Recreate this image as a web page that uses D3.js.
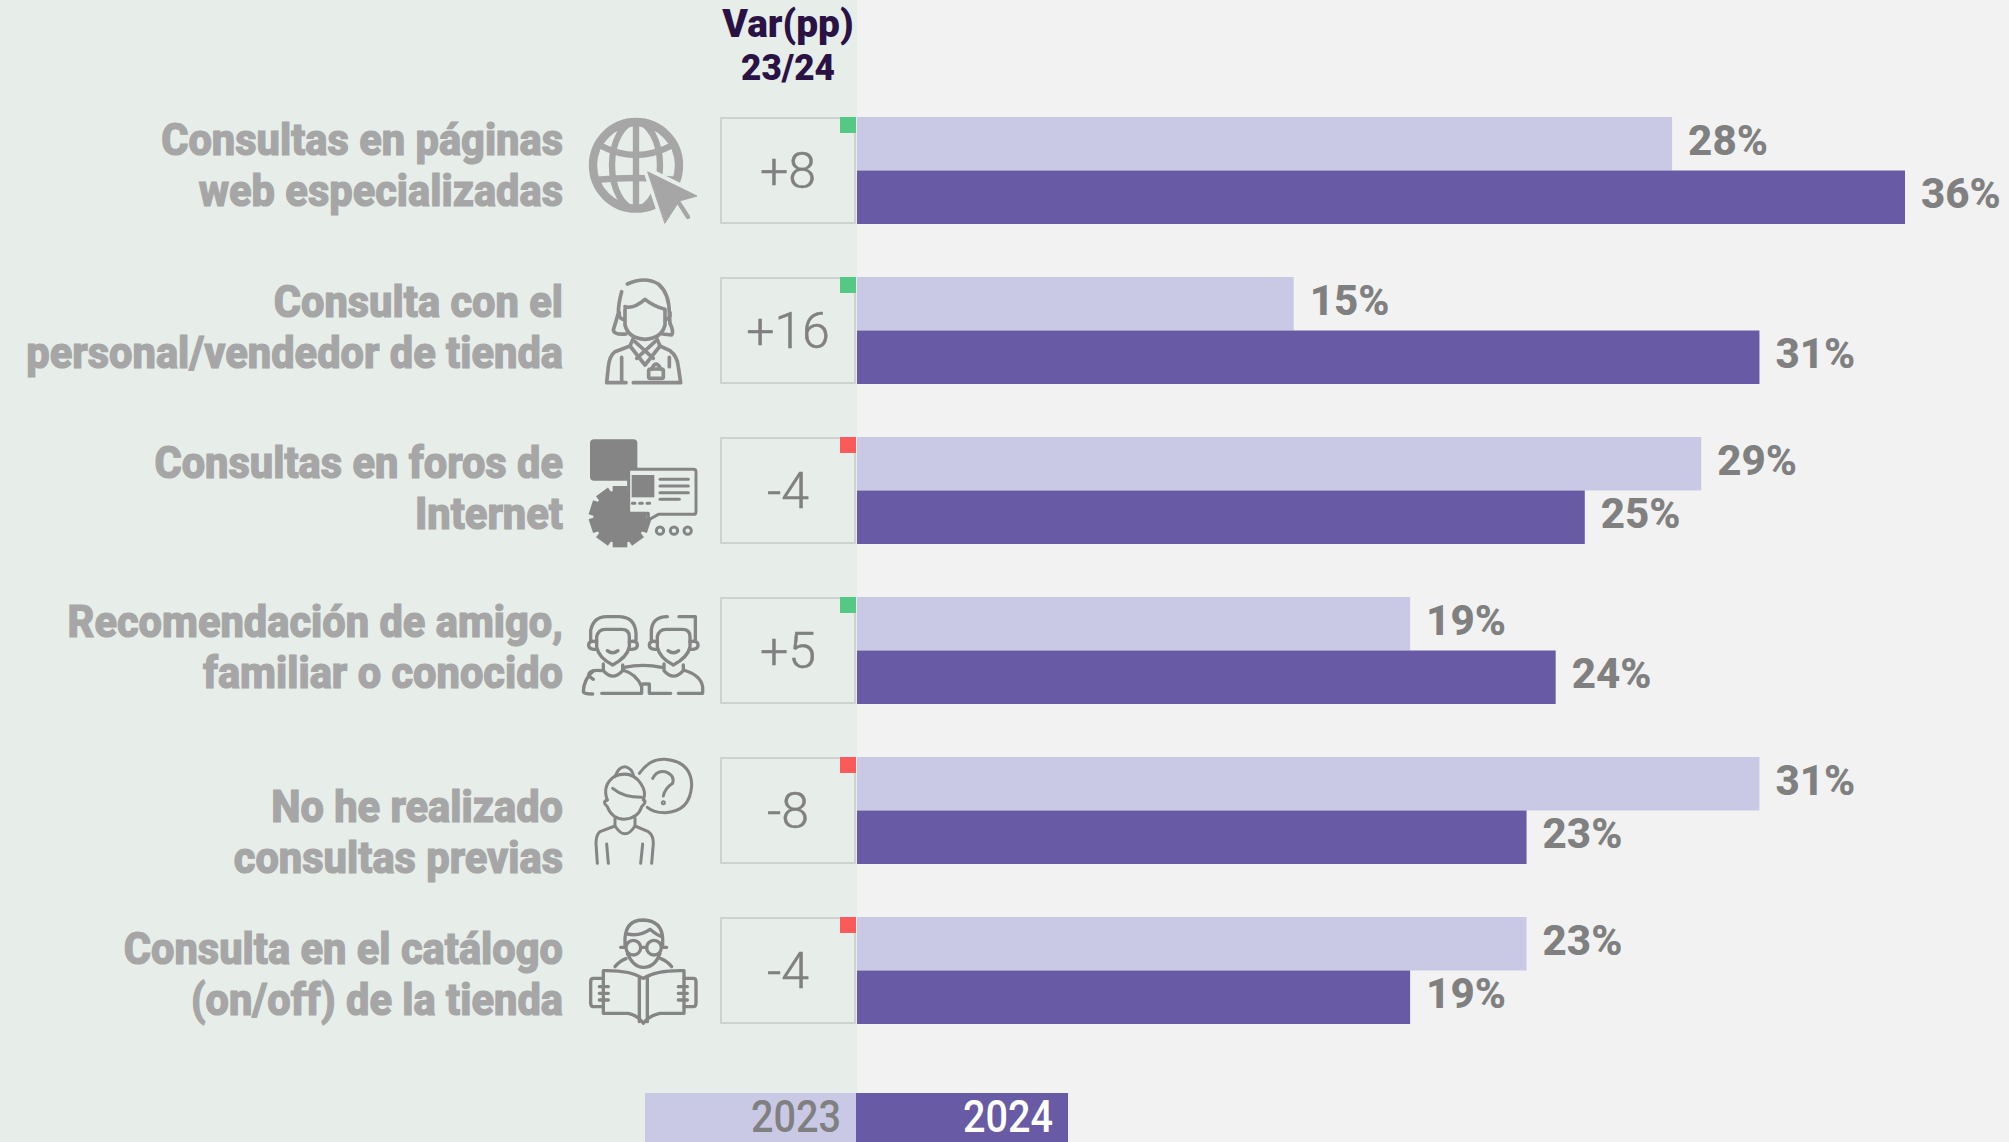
<!DOCTYPE html>
<html>
<head>
<meta charset="utf-8">
<script src="https://cdn.jsdelivr.net/npm/d3@7"></script>
<style>
  html, body { margin: 0; padding: 0; background: #f2f2f2; }
  svg { display: block; }
  text { font-family: Roboto, sans-serif; }
  .cat-label { font-weight: 800; font-size: 44px; fill: #a6a6a6; stroke: #a6a6a6; stroke-width: 1.2px; }
  .val-label { font-weight: 800; font-size: 43px; fill: #808080; }
  .var-label { font-weight: 300; font-size: 50px; fill: #808080; stroke: #808080; stroke-width: 0.5px; }
  .head-label { font-weight: 900; font-size: 37px; fill: #2a1245; }
  .legend-label { font-weight: 500; font-size: 45px; }
  .ico { fill: none; stroke-linecap: round; stroke-linejoin: round; }
</style>
</head>
<body>
<div id="chart"></div>
<script>
const categories = [
  ["Consultas en páginas", "web especializadas"],
  ["Consulta con el", "personal/vendedor de tienda"],
  ["Consultas en foros de", "Internet"],
  ["Recomendación de amigo,", "familiar o conocido"],
  ["No he realizado", "consultas previas"],
  ["Consulta en el catálogo", "(on/off) de la tienda"],
];
const values2023 = [28, 15, 29, 19, 31, 23];
const values2024 = [36, 31, 25, 24, 23, 19];
const variation = ["+8", "+16", "-4", "+5", "-8", "-4"];
const seriesNames = ["2023", "2024"];

const COLORS = { 2023: "#c9c9e5", 2024: "#685aa5" };
const PANEL = "#e7eeea";
const FLAG_UP = "#55c886";
const FLAG_DOWN = "#fa5a5a";

// first baseline of each two line label, from the top of its row
const LABEL_OFFSETS = [38, 40, 41, 40, 65, 47];
const LABEL_SCALE = 0.945;

const width = 2009;
const height = 1142;
const panelRight = 857;

const svg = d3.select("#chart").append("svg")
  .attr("width", width)
  .attr("height", height);

svg.append("rect").attr("width", width).attr("height", height).attr("fill", "#f2f2f2");
svg.append("rect").attr("width", panelRight).attr("height", height).attr("fill", PANEL);

const x = d3.scaleLinear().domain([0, 36]).range([panelRight, 1905]);
const y = d3.scaleBand()
  .domain(d3.range(categories.length))
  .range([117, 1024])
  .paddingInner(53 / 160);
const ySeries = d3.scaleBand().domain(seriesNames).range([0, y.bandwidth()]);

const rows = svg.append("g")
  .selectAll("g")
  .data(categories.map((lines, i) => ({
    lines, i,
    a: values2023[i],
    b: values2024[i],
    change: variation[i],
  })))
  .enter()
  .append("g")
  .attr("transform", d => `translate(0,${y(d.i)})`);

// category labels
rows.each(function(d) {
  const g = d3.select(this);
  d.lines.forEach((line, k) => {
    g.append("text")
      .attr("class", "cat-label")
      .attr("text-anchor", "end")
      .attr("transform", `translate(563,${LABEL_OFFSETS[d.i] + k * 51}) scale(${LABEL_SCALE},1)`)
      .text(line);
  });
});

// variation boxes
rows.append("rect")
  .attr("x", 721)
  .attr("y", 1)
  .attr("width", 134)
  .attr("height", y.bandwidth() - 2)
  .attr("fill", PANEL)
  .attr("stroke", "#cfd3d0")
  .attr("stroke-width", 2);

rows.append("rect")
  .attr("x", 840)
  .attr("y", 0)
  .attr("width", 16)
  .attr("height", 16)
  .attr("fill", d => d.change[0] === "+" ? FLAG_UP : FLAG_DOWN);

rows.append("text")
  .attr("class", "var-label")
  .attr("x", 788)
  .attr("y", 71)
  .attr("text-anchor", "middle")
  .text(d => d.change);

// bars and value labels
seriesNames.forEach((name, s) => {
  const key = s === 0 ? "a" : "b";
  rows.append("rect")
    .attr("x", x(0))
    .attr("y", ySeries(name))
    .attr("width", d => x(d[key]) - x(0))
    .attr("height", ySeries.bandwidth())
    .attr("fill", COLORS[name]);

  rows.append("text")
    .attr("class", "val-label")
    .attr("transform", d => `translate(${x(d[key]) + 16},${ySeries(name) + 37.5}) scale(0.98,1)`)
    .text(d => `${d[key]}%`);
});

// header
svg.append("text").attr("class", "head-label").attr("text-anchor", "middle")
  .attr("transform", "translate(788,37) scale(1.05,1.03)").text("Var(pp)");
svg.append("text").attr("class", "head-label").attr("text-anchor", "middle")
  .attr("transform", "translate(788,80) scale(0.95,1)").text("23/24");

// legend
svg.append("rect").attr("x", 645).attr("y", 1093).attr("width", 211).attr("height", 49).attr("fill", COLORS[2023]);
svg.append("rect").attr("x", 856).attr("y", 1093).attr("width", 212).attr("height", 49).attr("fill", COLORS[2024]);
svg.append("text").attr("class", "legend-label").attr("fill", "#808080")
  .attr("text-anchor", "end").attr("transform", "translate(841,1132) scale(0.88,1)").text(seriesNames[0]);
svg.append("text").attr("class", "legend-label").attr("fill", "#fff")
  .attr("text-anchor", "end").attr("transform", "translate(1053,1132) scale(0.88,1)").text(seriesNames[1]);

// icons, each drawn in the 3x coordinates of its crop
function icon(ox, oy, color, sw) {
  return svg.append("g")
    .attr("class", "ico")
    .attr("transform", `translate(${ox},${oy}) scale(${1 / 3})`)
    .attr("stroke", color)
    .attr("stroke-width", sw);
}
function paths(g, list) {
  list.forEach(d => g.append("path").attr("d", d));
}

// globe with cursor
const globe = icon(570, 100, "#a6a6a6", 25);
globe.append("ellipse").attr("cx", 198).attr("cy", 196).attr("rx", 129).attr("ry", 130);
globe.append("ellipse").attr("cx", 198).attr("cy", 196).attr("rx", 72).attr("ry", 130).attr("stroke-width", 19);
paths(globe, [
  "M198 64V328",
  "M88 135Q198 195 308 135",
  "M72 240Q198 228 325 240",
]);
globe.selectAll("path").attr("stroke-width", 19).attr("stroke-linecap", "butt");
globe.append("path")
  .attr("d", "M234 216L381 288L285 369Z")
  .attr("fill", PANEL).attr("stroke", PANEL).attr("stroke-width", 26);
globe.append("path")
  .attr("d", "M234 216L381 288L328 303L285 369Z")
  .attr("fill", "#a6a6a6").attr("stroke", "#a6a6a6").attr("stroke-width", 3);
globe.append("path").attr("d", "M320 298L354 351").attr("stroke-width", 13);

// shop assistant
const clerk = icon(590, 270, "#8c8c8c", 11);
paths(clerk, [
  "M112 42Q165 18 205 42Q238 70 238 130L240 160Q252 185 245 195L218 192",
  "M95 65Q85 100 85 130L70 180Q72 195 108 192",
  "M105 118V165Q115 205 165 208Q215 205 225 165V118Q190 108 165 88Q130 118 105 110",
  "M88 128Q85 145 100 148M240 128Q242 145 228 148",
  "M130 205L120 228L75 245Q58 258 55 290L50 338H108M95 262V335",
  "M200 205L210 228L240 242Q262 258 265 290L272 338H130M238 262V290",
  "M120 228L165 285L210 228M135 215L190 265M195 215L140 265",
]);
clerk.append("rect").attr("x", 176).attr("y", 297).attr("width", 44).attr("height", 28).attr("rx", 5);
clerk.append("path").attr("d", "M185 297Q198 268 212 297");

// forum gear and speech box
const forum = icon(550, 420, "#858585", 9);
const teeth = d3.range(10).map(k => k * 36);
teeth.forEach(a => {
  forum.append("rect").attr("x", 188).attr("y", 198).attr("width", 44).attr("height", 60)
    .attr("fill", "#858585").attr("stroke", "none")
    .attr("transform", `rotate(${a},210,290)`);
});
forum.append("circle").attr("cx", 210).attr("cy", 290).attr("r", 80).attr("fill", "#858585").attr("stroke", "none");
forum.append("rect").attr("x", 120).attr("y", 58).attr("width", 142).attr("height", 124).attr("rx", 12)
  .attr("fill", "#858585").attr("stroke", "none");
forum.append("path")
  .attr("d", "M236 148H430Q438 148 438 156V275Q438 283 430 283H325L295 300V280H236Z")
  .attr("fill", PANEL);
forum.append("rect").attr("x", 245).attr("y", 165).attr("width", 68).attr("height", 67)
  .attr("fill", "#858585").attr("stroke", "none");
paths(forum, ["M330 178H415", "M330 198H415", "M330 218H415", "M330 238H388"]);
forum.append("path").attr("d", "M247 250H312").attr("stroke-dasharray", "8 14");
[330, 372, 413].forEach(cx => {
  forum.append("circle").attr("cx", cx).attr("cy", 332).attr("r", 11);
});

// two friends
const friends = icon(550, 420, "#858585", 10);
function friendHead(dx, hair) {
  const g = friends.append("g").attr("transform", `translate(${dx},0)`);
  paths(g, [
    hair,
    "M140 650Q145 628 165 628H215Q238 628 238 650V680Q232 712 188 735Q145 712 140 680Z",
    "M172 692Q188 705 204 692",
    "M160 732V752Q188 785 218 752V735",
    "M140 665Q116 660 116 675Q116 690 140 688M238 665Q262 660 262 675Q262 690 238 688",
  ]);
}
friendHead(0, "M122 660V632Q130 590 170 590H205Q255 590 258 640V660");
friendHead(182, "M122 660V632Q125 590 170 590M205 590H254V660");
paths(friends, [
  "M155 752Q115 748 116 768L130 778",
  "M130 752Q100 780 100 815Q100 822 128 822M155 820H275V800Q260 762 218 750",
  "M222 742Q280 730 335 742",
  "M278 792H298V820H362",
  "M385 820H458V800Q452 765 400 750",
]);

// woman with question mark
const asking = icon(550, 720, "#858585", 9);
paths(asking, [
  "M268 160Q300 115 345 118Q425 125 425 197Q420 275 345 278Q310 278 292 262",
  "M308 175Q320 150 345 155Q375 165 368 190Q345 205 340 228",
  "M195 170Q205 140 225 140Q245 145 250 165",
  "M172 240Q155 195 195 168Q245 150 272 190Q290 215 280 240",
  "M188 205Q220 232 275 232",
  "M172 240Q155 245 172 260Q185 295 222 298Q265 295 275 260Q292 245 280 238",
  "M195 295V318Q225 365 255 318V295",
  "M195 318L150 335Q138 345 138 370L142 430M255 318L295 335Q310 345 310 370L305 430",
  "M170 372L175 430M278 372L272 430",
]);
asking.append("circle").attr("cx", 340).attr("cy", 248).attr("r", 3);

// reader with glasses
const reader = icon(550, 720, "#858585", 10);
paths(reader, [
  "M225 680V655Q228 600 280 600Q335 602 338 655V680",
  "M232 642Q270 650 300 628Q320 645 335 650",
  "M232 700Q250 742 280 742Q315 742 330 700",
  "M195 740Q210 722 228 716M365 740Q350 722 332 716",
  "M280 775Q240 750 160 752V880H235Q262 885 280 910Q300 885 330 880H402V752Q320 750 280 775",
  "M268 775V905M292 775V905",
  "M160 775H130Q122 775 122 785V850Q122 860 130 860H160",
  "M402 775H430Q438 775 438 785V850Q438 860 430 860H402",
  "M148 800H175M148 820H175M148 840H175M385 800H412M385 820H412M385 840H412",
  "M212 682H225M338 682H350M272 682H290",
]);
[250, 312].forEach(cx => {
  reader.append("circle").attr("cx", cx).attr("cy", 683).attr("r", 22);
});
</script>
</body>
</html>
